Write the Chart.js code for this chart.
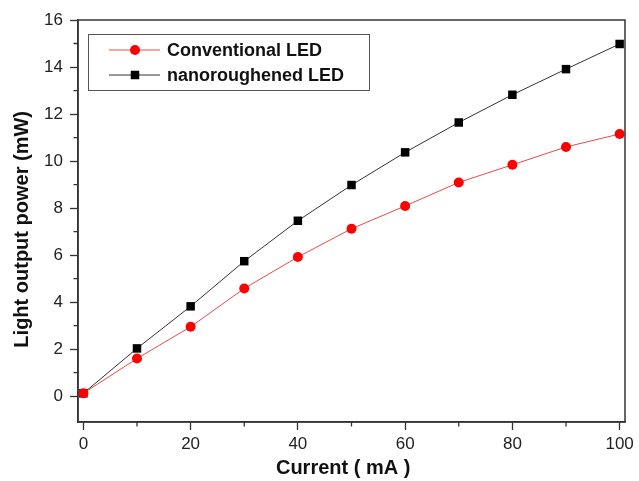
<!DOCTYPE html>
<html>
<head>
<meta charset="utf-8">
<script src="https://cdn.jsdelivr.net/npm/chart.js@4.4.1/dist/chart.umd.min.js"></script>
<style>
  html, body { margin: 0; padding: 0; background: #fff; }
  #wrap { width: 639px; height: 481px; }
</style>
</head>
<body>
<div id="wrap"><canvas id="ledChart" width="639" height="481"></canvas></div>
<script>
// данные с графика
const currentMA = [0, 10, 20, 30, 40, 50, 60, 70, 80, 90, 100];
const conventionalLED = [0.12, 1.6, 2.95, 4.58, 5.92, 7.12, 8.09, 9.09, 9.84, 10.6, 11.15];
const nanoroughenedLED = [0.12, 2.03, 3.82, 5.74, 7.46, 8.98, 10.37, 11.64, 12.82, 13.91, 14.98];
const xTicks = [0, 20, 40, 60, 80, 100];
const yTicks = [0, 2, 4, 6, 8, 10, 12, 14, 16];
const xMinorTicks = [10, 30, 50, 70, 90];
const yMinorTicks = [1, 3, 5, 7, 9, 11, 13, 15];

const FONT = "'Liberation Sans', Arial, sans-serif";
const AXIS = '#333';

const toPoints = (ys) => currentMA.map((x, i) => ({ x: x, y: ys[i] }));

// рамка, мелкие деления и легенда
const framePlugin = {
    id: 'frame',
    afterDraw(chart) {
        const ctx = chart.ctx;
        const a = chart.chartArea;
        const xs = chart.scales.x, ys = chart.scales.y;
        ctx.save();
        ctx.strokeStyle = AXIS;
        ctx.lineWidth = 1.5;
        ctx.strokeRect(a.left, a.top, a.right - a.left, a.bottom - a.top);

        ctx.lineWidth = 1.3;
        ctx.beginPath();
        xMinorTicks.forEach(v => {
            const px = xs.getPixelForValue(v);
            ctx.moveTo(px, a.bottom);
            ctx.lineTo(px, a.bottom + 4.5);
        });
        yMinorTicks.forEach(v => {
            const py = ys.getPixelForValue(v);
            ctx.moveTo(a.left, py);
            ctx.lineTo(a.left - 4.5, py);
        });
        ctx.stroke();

        // легенда
        const box = { x: 88, y: 34, w: 281, h: 56 };
        ctx.strokeStyle = '#555';
        ctx.lineWidth = 1;
        ctx.strokeRect(box.x + 0.5, box.y + 0.5, box.w, box.h);
        chart.data.datasets.forEach((ds, i) => {
            const cy = box.y + 16 + i * 25;
            ctx.strokeStyle = ds.borderColor;
            ctx.lineWidth = 1;
            ctx.beginPath();
            ctx.moveTo(109, cy);
            ctx.lineTo(160, cy);
            ctx.stroke();
            ctx.fillStyle = ds.pointBackgroundColor;
            if (ds.pointStyle === 'circle') {
                ctx.beginPath();
                ctx.arc(135, cy, ds.pointRadius, 0, Math.PI * 2);
                ctx.fill();
            } else {
                const s = ds.pointRadius * Math.SQRT1_2;
                ctx.fillRect(135 - s, cy - s, 2 * s, 2 * s);
            }
            ctx.fillStyle = '#111';
            ctx.font = 'bold 18px ' + FONT;
            ctx.textBaseline = 'middle';
            ctx.textAlign = 'left';
            ctx.fillText(ds.label, 167, cy + 1);
        });
        ctx.restore();
    }
};

const config = {
    type: 'line',
    data: {
        datasets: [{
            label: 'Conventional LED',
            data: toPoints(conventionalLED),
            borderColor: '#f04848',
            borderWidth: 1,
            pointStyle: 'circle',
            pointRadius: 5,
            pointBackgroundColor: '#ff0000',
            pointBorderColor: '#ff0000',
            pointBorderWidth: 0
        }, {
            label: 'nanoroughened LED',
            data: toPoints(nanoroughenedLED),
            borderColor: '#333',
            borderWidth: 1,
            pointStyle: 'rect',
            pointRadius: 6,
            pointBackgroundColor: '#000',
            pointBorderColor: '#000',
            pointBorderWidth: 0
        }]
    },
    options: {
        responsive: false,
        animation: false,
        clip: false,
        layout: { padding: { top: 20, right: 14, left: 0, bottom: 0 } },
        plugins: {
            legend: { display: false },
            tooltip: { enabled: false }
        },
        scales: {
            x: {
                type: 'linear',
                min: -1,
                max: 101,
                afterBuildTicks: s => { s.ticks = xTicks.map(v => ({ value: v })); },
                afterFit: s => { s.height = 59; },
                ticks: {
                    autoSkip: false,
                    maxRotation: 0,
                    padding: 4,
                    color: '#222',
                    font: { family: FONT, size: 17 }
                },
                grid: {
                    drawOnChartArea: false,
                    drawTicks: true,
                    tickLength: 8,
                    tickWidth: 1.3,
                    color: AXIS
                },
                border: { display: true, color: AXIS, width: 1.5 },
                title: {
                    display: true,
                    text: 'Current ( mA )   ',
                    color: '#111',
                    font: { family: FONT, size: 20, weight: 'bold' },
                    padding: { top: 0, bottom: 1 }
                }
            },
            y: {
                type: 'linear',
                min: -1.1,
                max: 16,
                afterBuildTicks: s => { s.ticks = yTicks.map(v => ({ value: v })); },
                afterFit: s => { s.width = 78; },
                ticks: {
                    autoSkip: false,
                    padding: 7,
                    color: '#222',
                    font: { family: FONT, size: 17 }
                },
                grid: {
                    drawOnChartArea: false,
                    drawTicks: true,
                    tickLength: 8,
                    tickWidth: 1.3,
                    color: AXIS
                },
                border: { display: true, color: AXIS, width: 1.5 },
                title: {
                    display: true,
                    text: 'Light output power (mW)   ',
                    color: '#111',
                    font: { family: FONT, size: 20, weight: 'bold' },
                    padding: { top: 10, bottom: 0 }
                }
            }
        }
    },
    plugins: [framePlugin]
};

new Chart(document.getElementById('ledChart').getContext('2d'), config);
</script>
</body>
</html>
